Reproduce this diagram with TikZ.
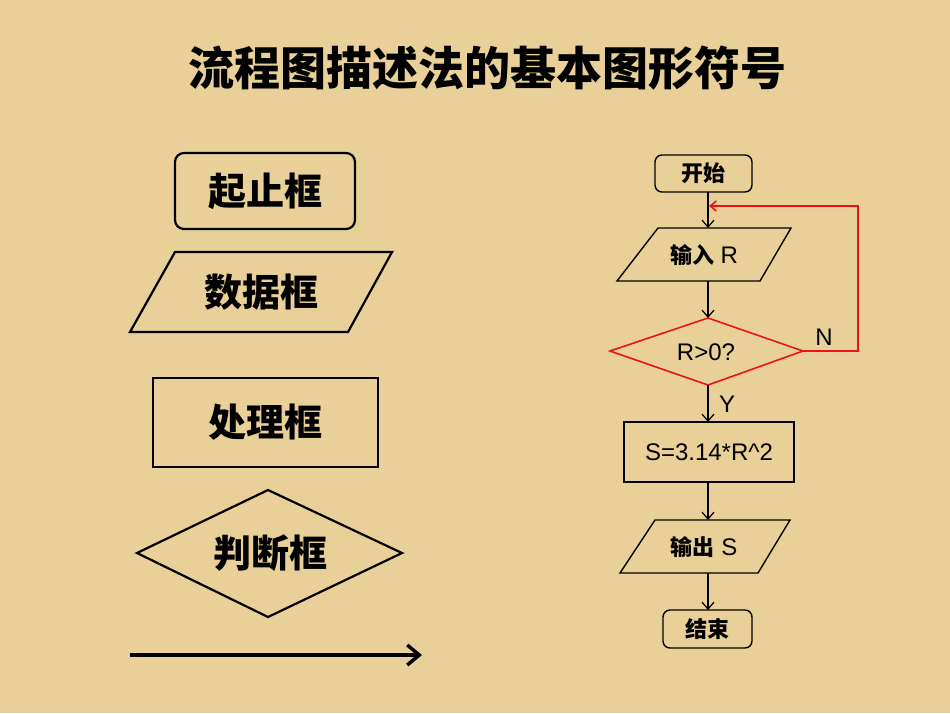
\documentclass[tikz,border=0pt]{standalone}
\usepackage{fontspec}
\setmainfont{Liberation Sans}
\newfontfamily\cjk{Noto Sans CJK SC}
\usetikzlibrary{arrows.meta}
\definecolor{bg}{RGB}{233,208,152}
\definecolor{redl}{RGB}{235,20,20}
\tikzset{
  shp/.style={draw=black,line width=2.2pt,line join=miter},
  shps/.style={draw=black,line width=1.4pt},
  big/.style={font=\cjk\bfseries\fontsize{38}{38}\selectfont},
  sm/.style={font=\fontsize{24}{24}\selectfont},
  smc/.style={font=\cjk\bfseries\fontsize{22}{22}\selectfont},
  arr/.style={line width=1.2pt,-{Straight Barb[length=7pt,width=12pt]}},
}
\begin{document}
\begin{tikzpicture}[x=1pt,y=-1pt]
\fill[bg] (0,0) rectangle (950,713);
\useasboundingbox (0,0) rectangle (950,713);
\node[font=\cjk\bfseries\fontsize{46}{46}\selectfont] (title) at (487,68) {流程图描述法的基本图形符号};
% left legend
\draw[shp,rounded corners=9pt] (175,153) rectangle (355,229);
\node[big] (l1) at (265,191) {起止框};
\draw[shp] (175,252) -- (392,252) -- (348,332) -- (130,332) -- cycle;
\node[big] (l2) at (261,292) {数据框};
\draw[shp] (153,378) rectangle (378,467);
\node[big] (l3) at (265,422) {处理框};
\draw[shp] (137,553) -- (268,490) -- (402,553) -- (268,617) -- cycle;
\node[big] (l4) at (270,553) {判断框};
\coordinate (a1) at (130,655);
\coordinate (a2) at (422,655);
\draw[line width=3.5pt,-{Straight Barb[length=12pt,width=20pt]}] (a1) -- (a2);
% right flowchart
\draw[shps,rounded corners=7pt] (655,155) rectangle (752,192);
\node[smc] (s) at (703,173) {开始};
\coordinate (sb) at (708,192);
\draw[shps] (658,228) -- (791,228) -- (760,281) -- (617,281) -- cycle;
\node[sm] (in) at (704,255) {{\cjk\bfseries\fontsize{22}{22}\selectfont 输入} R};
\coordinate (int) at (708,228);
\coordinate (inb) at (708,281);
\draw[draw=redl,line width=1.6pt] (610,351) -- (708,318) -- (803,351) -- (708,385) -- cycle;
\node[sm] (d) at (706,352) {R>0?};
\coordinate (dt) at (708,318);
\coordinate (db) at (708,385);
\coordinate (dr) at (803,351);
\draw[shps] (624,422) rectangle (794,482);
\node[sm] (p) at (709,452) {S=3.14*R\^{}2};
\coordinate (pt) at (708,422);
\coordinate (pb) at (708,482);
\draw[shps] (655,520) -- (790,520) -- (758,573) -- (620,573) -- cycle;
\node[sm] (o) at (704,547) {{\cjk\bfseries\fontsize{22}{22}\selectfont 输出} S};
\coordinate (ot) at (708,520);
\coordinate (ob) at (708,573);
\draw[shps,rounded corners=7pt] (663,610) rectangle (752,648);
\node[smc] (e) at (707,629) {结束};
\coordinate (et) at (708,610);
\draw[arr] (sb) -- (int);
\draw[arr] (inb) -- (dt);
\draw[arr] (db) -- (pt);
\draw[arr] (pb) -- (ot);
\draw[arr] (ob) -- (et);
\coordinate (rc1) at (858,351);
\coordinate (rc2) at (858,206);
\coordinate (rin) at (709,206);
\draw[draw=redl,line width=1.6pt,-{Straight Barb[length=6pt,width=10pt]}] (dr) -- (rc1) -- (rc2) -- (rin);
\node[sm] (Y) at (727,404) {Y};
\node[sm] (N) at (824,337) {N};
\end{tikzpicture}
\end{document}
